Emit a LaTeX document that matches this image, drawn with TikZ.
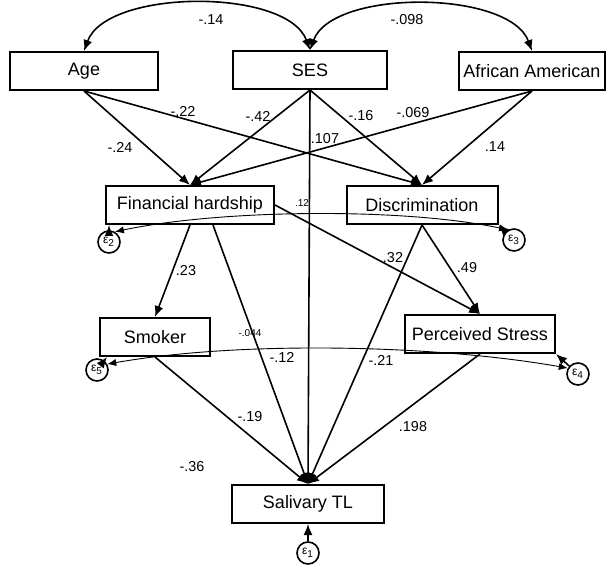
\documentclass[tikz,border=0pt]{standalone}
\usepackage{fontspec}
\setmainfont{Liberation Sans}
\usetikzlibrary{arrows.meta, positioning}

\begin{document}
\begin{tikzpicture}[
    x = 0.5pt, y = 0.5pt,
    box/.style = {rectangle, draw, line width=1pt, minimum height=19pt, inner sep=0pt, font=\fontsize{9}{10}\selectfont},
    err/.style = {circle, draw, line width=0.8pt, minimum size=11pt, inner sep=0pt, font=\fontsize{6}{6}\selectfont},
    coef/.style = {inner sep=0pt, font=\fontsize{7.2}{8}\selectfont},
    tinycoef/.style = {inner sep=0pt, font=\fontsize{5}{6}\selectfont},
    effect/.style = {line width=0.8pt, -{Latex[length=5.5pt, width=4.5pt]}},
    cov/.style = {line width=0.8pt, {Latex[length=5.5pt, width=4.5pt]}-{Latex[length=5.5pt, width=4.5pt]}},
    errcov/.style = {line width=0.45pt, {Latex[length=4.5pt, width=3.6pt]}-{Latex[length=4.5pt, width=3.6pt]}},
]
    \useasboundingbox (0,0) rectangle (606,-567);
    % observed variables
    \node[box, minimum width=74pt]   (age)  at (84,-71)   {Age};
    \node[box, minimum width=77pt]   (ses)  at (310,-70)  {SES};
    \node[box, minimum width=73pt]   (aa)   at (532,-71)  {African American};
    \node[box, minimum width=84pt]   (fh)   at (190,-205) {Financial hardship};
    \node[box, minimum width=75.5pt] (disc) at (422,-205) {Discrimination};
    \node[box, minimum width=55pt]   (smk)  at (155,-337) {Smoker};
    \node[box, minimum width=75pt]   (ps)   at (480,-334) {Perceived Stress};
    \node[box, minimum width=76pt]   (tl)   at (308,-504) {Salivary TL};
    % error terms
    \node[err] (e1) at (308,-553) {ε\textsubscript{1}};
    \node[err] (e2) at (109,-242) {ε\textsubscript{2}};
    \node[err] (e3) at (514,-240) {ε\textsubscript{3}};
    \node[err] (e4) at (578,-374) {ε\textsubscript{4}};
    \node[err] (e5) at (97,-370)  {ε\textsubscript{5}};

    \foreach \a/\b in {age.south/fh.north, age.south/disc.north,
                       ses.south/fh.north, ses.south/disc.north, ses.south/tl.north,
                       aa.south/fh.north, aa.south/disc.north,
                       fh.south/smk.north, fh.east/ps.north,
                       disc.south/ps.north, disc.south/tl.north,
                       smk.south/tl.north, ps.south/tl.north}
        \draw[effect] (\a) -- (\b);
    \draw[effect] ([xshift=11.5pt]fh.south) -- (tl.north);

    \draw[effect] (e1) -- (tl);
    \draw[effect] (e2) -- (e2 |- fh.south);
    \draw[effect] (e3) -- (disc.south east);
    \draw[effect] (e4) -- (ps.south east);
    \draw[effect] (e5) -- ([xshift=4pt]smk.south west);

    % covariances
    \draw[cov] (age.north) to[out=70, in=110, looseness=0.75] (ses.north);
    \draw[cov] (ses.north) to[out=70, in=110, looseness=0.75] (aa.north);
    \draw[errcov] (e2.60) to[out=12, in=168, looseness=0.7] (e3.120);
    \draw[errcov] (e5.30) to[out=10, in=170, looseness=0.75] (e4.150);

    % coefficients
    \foreach \lab/\x/\y [count=\i] in {-.14/211/20, -.098/407/20, -.24/120/147, -.22/183/111,
                                       -.42/258/116, -.16/361/116, .107/325/139, -.069/413/113,
                                       .14/495/147, .23/186/271, .32/393/258, .49/467/268,
                                       -.12/282/357, -.21/381/360, -.19/250/417, .198/413/427,
                                       -.36/192/467}
        \node[coef] (c\i) at (\x,-\y) {\lab};
    \node[tinycoef] (c18) at (302,-203) {.12};
    \node[tinycoef] (c19) at (250,-333) {-.044};
\end{tikzpicture}
\end{document}
